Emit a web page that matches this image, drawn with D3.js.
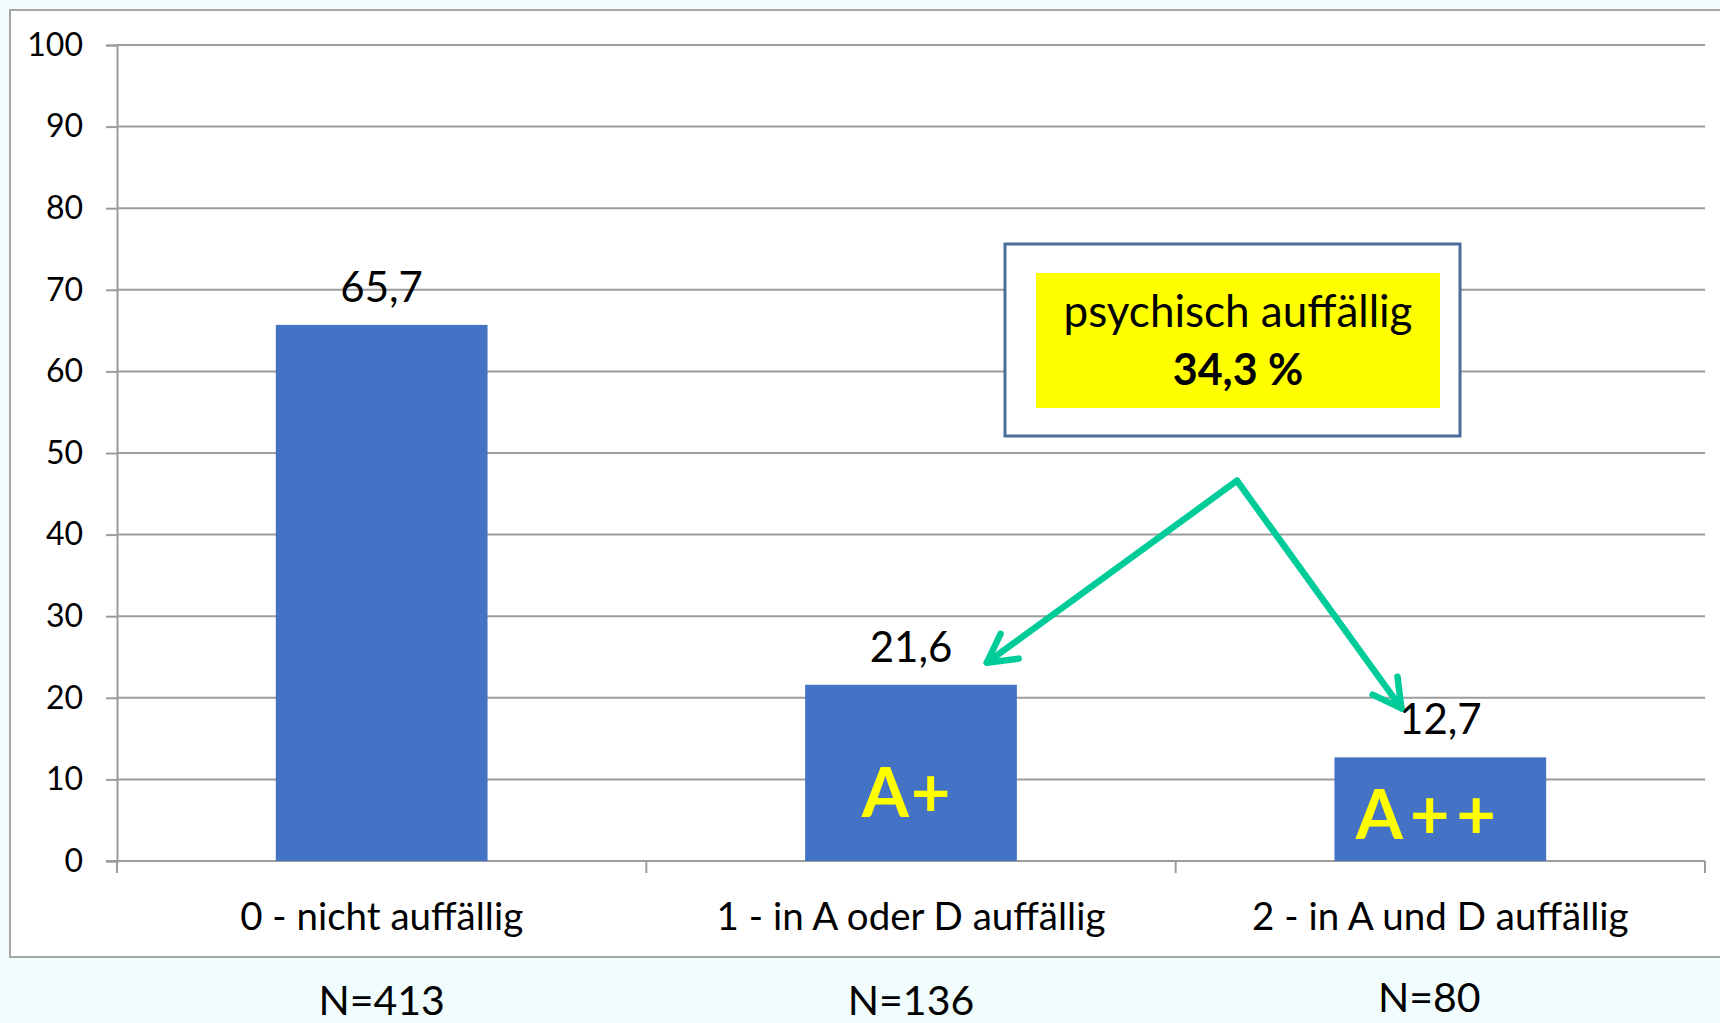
<!DOCTYPE html>
<html>
<head>
<meta charset="utf-8">
<script src="https://cdn.jsdelivr.net/npm/d3@7"></script>
<style>
  html, body { margin: 0; padding: 0; background: #f1fcfd; }
  svg { display: block; }
  text { font-family: Lato, "Noto Sans", sans-serif; }
</style>
</head>
<body>
<svg id="chart" width="1720" height="1023"></svg>
<script>
// Anteil der Kinder nach Auffälligkeit (Prozent)
const categories = ["0 - nicht auffällig", "1 - in A oder D auffällig", "2 - in A und D auffällig"];
const values = [65.7, 21.6, 12.7];
const counts = ["N=413", "N=136", "N=80"];
const barTags = [null, "A+", "A++"];
const yTicks = [0, 10, 20, 30, 40, 50, 60, 70, 80, 90, 100];

const fmt = v => d3.format(".1f")(v).replace(".", ",");

const svg = d3.select("#chart");
const W = 1720, H = 1023;

// chart panel
svg.append("rect")
  .attr("x", 10).attr("y", 10)
  .attr("width", W + 10).attr("height", 947)
  .attr("fill", "#ffffff").attr("stroke", "#a6a6a6").attr("stroke-width", 2);

const plot = { left: 117, right: 1705, top: 45, bottom: 861 };

const x = d3.scaleBand()
  .domain(categories)
  .range([plot.left, plot.right])
  .paddingInner(0.6)
  .paddingOuter(0.3);

const y = d3.scaleLinear().domain([0, 100]).range([plot.bottom, plot.top]);

// horizontal gridlines
svg.append("g")
  .selectAll("line")
  .data(yTicks)
  .join("line")
  .attr("x1", plot.left).attr("x2", plot.right)
  .attr("y1", d => y(d)).attr("y2", d => y(d))
  .attr("stroke", "#9c9c9c").attr("stroke-width", 2);

// y axis
const yAxis = svg.append("g")
  .attr("transform", `translate(${plot.left},0)`)
  .call(d3.axisLeft(y).tickValues(yTicks).tickSize(11).tickPadding(23).tickFormat(d3.format("d")));
yAxis.select(".domain").attr("stroke", "#9c9c9c").attr("stroke-width", 2);
yAxis.selectAll(".tick line").attr("stroke", "#9c9c9c").attr("stroke-width", 2);
yAxis.selectAll(".tick text")
  .attr("font-size", 32).attr("fill", "#000")
  .style("font-family", "Lato, sans-serif");

// x axis baseline and category boundary ticks
const boundaries = [plot.left].concat(categories.map(c => x(c) + x.bandwidth() + x.step() * x.paddingInner() / 2));
svg.append("line")
  .attr("x1", plot.left - 11).attr("x2", plot.right)
  .attr("y1", y(0)).attr("y2", y(0))
  .attr("stroke", "#9c9c9c").attr("stroke-width", 2);
svg.append("g")
  .selectAll("line")
  .data(boundaries)
  .join("line")
  .attr("x1", d => d).attr("x2", d => d)
  .attr("y1", y(0)).attr("y2", y(0) + 12)
  .attr("stroke", "#9c9c9c").attr("stroke-width", 2);

// bars
svg.append("g")
  .selectAll("rect")
  .data(values)
  .join("rect")
  .attr("x", (d, i) => x(categories[i]))
  .attr("y", d => y(d))
  .attr("width", x.bandwidth())
  .attr("height", d => y(0) - y(d))
  .attr("fill", "#4472c4");

// value labels
svg.append("g")
  .selectAll("text")
  .data(values)
  .join("text")
  .attr("x", (d, i) => x(categories[i]) + x.bandwidth() / 2)
  .attr("y", d => y(d) - 23)
  .attr("text-anchor", "middle")
  .attr("font-size", 42)
  .attr("fill", "#000")
  .text(d => fmt(d));

// category labels
svg.append("g")
  .selectAll("text")
  .data(categories)
  .join("text")
  .attr("x", d => x(d) + x.bandwidth() / 2)
  .attr("y", 930)
  .attr("text-anchor", "middle")
  .attr("font-size", 38.5)
  .attr("fill", "#000")
  .text(d => d);

// sample sizes below panel
svg.append("g")
  .selectAll("text")
  .data(counts)
  .join("text")
  .attr("x", (d, i) => x(categories[i]) + x.bandwidth() / 2 - (i === 2 ? 11 : 0))
  .attr("y", (d, i) => i === 2 ? 1012 : 1015)
  .attr("text-anchor", "middle")
  .attr("font-size", 41)
  .attr("fill", "#000")
  .text(d => d);

// tags inside bars
svg.append("g")
  .selectAll("text")
  .data(barTags.map((t, i) => ({ t, i })).filter(d => d.t))
  .join("text")
  .attr("x", d => x(categories[d.i]) + x.bandwidth() / 2 - (d.i === 2 ? 11 : 4))
  .attr("y", d => d.i === 1 ? 817 : 839)
  .attr("text-anchor", "middle")
  .attr("font-size", 68)
  .attr("font-weight", 700)
  .attr("letter-spacing", d => d.i === 2 ? 7 : 2)
  .attr("fill", "#ffff00")
  .text(d => d.t);

// callout box: total share of conspicuous children
const total = values[1] + values[2];
const box = { x: 1005, y: 244, w: 455, h: 192 };
svg.append("rect")
  .attr("x", box.x).attr("y", box.y).attr("width", box.w).attr("height", box.h)
  .attr("fill", "#ffffff").attr("stroke", "#4a6e9b").attr("stroke-width", 3);
svg.append("rect")
  .attr("x", 1036).attr("y", 273).attr("width", 404).attr("height", 135)
  .attr("fill", "#ffff00");
svg.append("text")
  .attr("x", 1238).attr("y", 327)
  .attr("text-anchor", "middle").attr("font-size", 44).attr("fill", "#000")
  .text("psychisch auffällig");
svg.append("text")
  .attr("x", 1238).attr("y", 385)
  .attr("text-anchor", "middle").attr("font-size", 43).attr("font-weight", 700).attr("fill", "#000")
  .text(fmt(total) + " %");

// arrows from callout to the two conspicuous groups
const apex = [1237, y(46.6)];
const tips = [
  [x(categories[1]) + x.bandwidth() - 30, y(24.3)],
  [x(categories[2]) + 67, y(18.7)]
];
const green = "#00cc99";
const arrows = svg.append("g")
  .attr("stroke", green).attr("stroke-width", 6.5)
  .attr("stroke-linecap", "round").attr("stroke-linejoin", "round").attr("fill", "none");
tips.forEach(t => {
  arrows.append("line")
    .attr("x1", apex[0]).attr("y1", apex[1])
    .attr("x2", t[0]).attr("y2", t[1]);
  const ang = Math.atan2(t[1] - apex[1], t[0] - apex[0]);
  const len = 32, spread = 0.5;
  const p1 = [t[0] - len * Math.cos(ang - spread), t[1] - len * Math.sin(ang - spread)];
  const p2 = [t[0] - len * Math.cos(ang + spread), t[1] - len * Math.sin(ang + spread)];
  arrows.append("path")
    .attr("d", d3.line()([p1, t, p2]));
});
</script>
</body>
</html>
